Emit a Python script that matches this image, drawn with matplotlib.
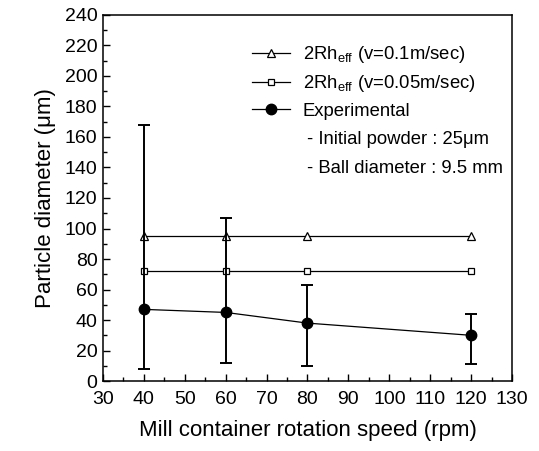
import matplotlib.pyplot as plt
import numpy as np
from matplotlib.ticker import MultipleLocator
from matplotlib.lines import Line2D

plt.rcParams["font.family"] = ["Liberation Sans", "DejaVu Sans"]
plt.rcParams["mathtext.fontset"] = "custom"
plt.rcParams["mathtext.rm"] = "Liberation Sans"
plt.rcParams["mathtext.it"] = "Liberation Sans:italic"

# === Data ===
speed = [40, 60, 80, 120]
rh_fast = [95, 95, 95, 95]        # 2Rh_eff (v=0.1 m/sec)
rh_slow = [72, 72, 72, 72]        # 2Rh_eff (v=0.05 m/sec)
exp_mean = [47, 45, 38, 30]       # experimental
exp_lo = [8, 12, 10, 11]          # lower end of error bar
exp_hi = [168, 107, 63, 44]       # upper end of error bar

fig = plt.figure(figsize=(5.39, 4.51), dpi=100)
ax = fig.add_axes([0.191, 0.155, 0.759, 0.812])

h1, = ax.plot(speed, rh_fast, color="black", lw=0.9, marker="^", ms=5.5,
              mfc="white", mec="black", mew=0.9)
h2, = ax.plot(speed, rh_slow, color="black", lw=0.9, marker="s", ms=5,
              mfc="white", mec="black", mew=0.9)

mean = np.array(exp_mean)
yerr = [mean - np.array(exp_lo), np.array(exp_hi) - mean]
ax.errorbar(speed, exp_mean, yerr=yerr, fmt="none", ecolor="black",
            elinewidth=1.4, capsize=4.5, capthick=1.4)
h3, = ax.plot(speed, exp_mean, color="black", lw=0.9, marker="o", ms=7.5)

ax.set_xlim(30, 130)
ax.set_ylim(0, 240)
ax.xaxis.set_major_locator(MultipleLocator(10))
ax.xaxis.set_minor_locator(MultipleLocator(5))
ax.yaxis.set_major_locator(MultipleLocator(20))
ax.yaxis.set_minor_locator(MultipleLocator(10))
ax.tick_params(which="both", direction="in", top=False, right=False, labelsize=14, width=1)
ax.tick_params(which="major", length=5)
ax.tick_params(which="minor", length=3)
ax.tick_params(axis="x", which="major", pad=7)
ax.tick_params(axis="y", which="major", pad=4)
for sp in ax.spines.values():
    sp.set_linewidth(1.1)

ax.set_xlabel("Mill container rotation speed (rpm)", fontsize=16, labelpad=9)
ax.set_ylabel("Particle diameter (μm)", fontsize=16, labelpad=6)

labels = [r"2Rh$_{\mathrm{eff}}$ (v=0.1m/sec)", r"2Rh$_{\mathrm{eff}}$ (v=0.05m/sec)", "Experimental"]
leg = ax.legend([h1, h2, h3], labels, loc="upper left", bbox_to_anchor=(0.346, 0.94),
                frameon=False, fontsize=13.3, handlelength=2.05, handletextpad=0.7,
                labelspacing=0.44, borderaxespad=0)
ax.text(0.5, 0.659, "- Initial powder : 25μm", transform=ax.transAxes,
        fontsize=13.3, va="center")
ax.text(0.5, 0.580, "- Ball diameter : 9.5 mm", transform=ax.transAxes,
        fontsize=13.3, va="center")

fig.savefig("out.png", dpi=100)
